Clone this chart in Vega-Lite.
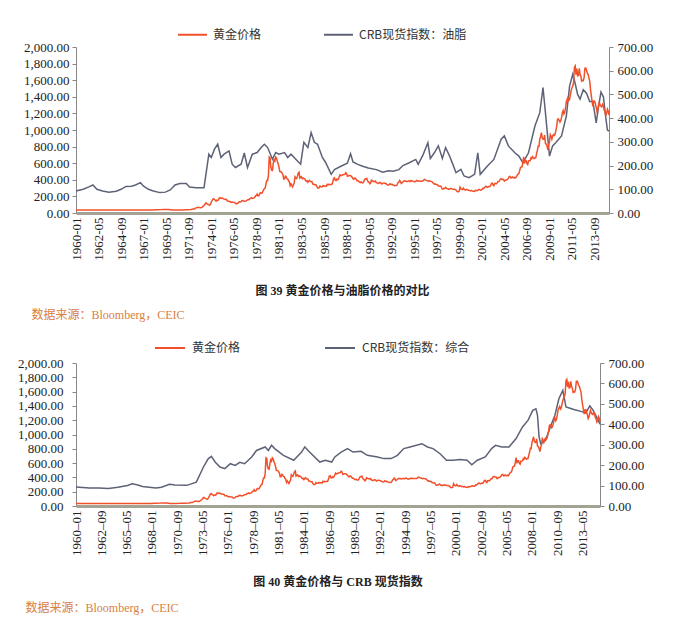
{
"$schema": "https://vega.github.io/schema/vega-lite/v6.json",
"background": "white",
"padding": {"left": 17, "top": 19, "right": 5, "bottom": 3},
"config": {
  "view": {"stroke": null},
  "font": "Liberation Serif",
  "axis": {"labelOverlap": false},
  "title": {"font": "Liberation Serif, Noto Sans CJK SC", "color": "#222"}
},
"datasets": {
"gold": [
{"d":"1960-01","v":35},{"d":"1964-01","v":35},{"d":"1967-12","v":35},{"d":"1968-04","v":38},{"d":"1968-12","v":41},{"d":"1969-03","v":43},{"d":"1969-08","v":41},{"d":"1969-12","v":35},{"d":"1970-06","v":35.5},{"d":"1970-12","v":37},{"d":"1971-06","v":40},{"d":"1971-12","v":43},
{"d":"1972-01","v":46},{"d":"1972-02","v":48},{"d":"1972-03","v":48},{"d":"1972-04","v":49},{"d":"1972-05","v":54},{"d":"1972-06","v":62},{"d":"1972-07","v":65},{"d":"1972-08","v":67},{"d":"1972-09","v":65},{"d":"1972-10","v":65},{"d":"1972-11","v":63},{"d":"1972-12","v":64},
{"d":"1973-01","v":65},{"d":"1973-02","v":74},{"d":"1973-03","v":84},{"d":"1973-04","v":90},{"d":"1973-05","v":102},{"d":"1973-06","v":120},{"d":"1973-07","v":120},{"d":"1973-08","v":106},{"d":"1973-09","v":103},{"d":"1973-10","v":100},{"d":"1973-11","v":94},{"d":"1973-12","v":106},
{"d":"1974-01","v":129},{"d":"1974-02","v":150},{"d":"1974-03","v":168},{"d":"1974-04","v":172},{"d":"1974-05","v":163},{"d":"1974-06","v":154},{"d":"1974-07","v":143},{"d":"1974-08","v":154},{"d":"1974-09","v":151},{"d":"1974-10","v":158},{"d":"1974-11","v":181},{"d":"1974-12","v":183},
{"d":"1975-01","v":176},{"d":"1975-02","v":180},{"d":"1975-03","v":178},{"d":"1975-04","v":170},{"d":"1975-05","v":167},{"d":"1975-06","v":164},{"d":"1975-07","v":165},{"d":"1975-08","v":163},{"d":"1975-09","v":144},{"d":"1975-10","v":143},{"d":"1975-11","v":142},{"d":"1975-12","v":140},
{"d":"1976-01","v":131},{"d":"1976-02","v":131},{"d":"1976-03","v":132},{"d":"1976-04","v":128},{"d":"1976-05","v":126},{"d":"1976-06","v":126},{"d":"1976-07","v":118},{"d":"1976-08","v":110},{"d":"1976-09","v":114},{"d":"1976-10","v":117},{"d":"1976-11","v":130},{"d":"1976-12","v":134},
{"d":"1977-01","v":132},{"d":"1977-02","v":136},{"d":"1977-03","v":148},{"d":"1977-04","v":149},{"d":"1977-05","v":146},{"d":"1977-06","v":141},{"d":"1977-07","v":143},{"d":"1977-08","v":145},{"d":"1977-09","v":150},{"d":"1977-10","v":158},{"d":"1977-11","v":162},{"d":"1977-12","v":161},
{"d":"1978-01","v":173},{"d":"1978-02","v":178},{"d":"1978-03","v":184},{"d":"1978-04","v":175},{"d":"1978-05","v":177},{"d":"1978-06","v":183},{"d":"1978-07","v":188},{"d":"1978-08","v":206},{"d":"1978-09","v":212},{"d":"1978-10","v":227},{"d":"1978-11","v":206},{"d":"1978-12","v":208},
{"d":"1979-01","v":227},{"d":"1979-02","v":245},{"d":"1979-03","v":242},{"d":"1979-04","v":239},{"d":"1979-05","v":257},{"d":"1979-06","v":279},{"d":"1979-07","v":295},{"d":"1979-08","v":301},{"d":"1979-09","v":355},{"d":"1979-10","v":392},{"d":"1979-11","v":392},{"d":"1979-12","v":456},
{"d":"1980-01","v":675},{"d":"1980-02","v":665},{"d":"1980-03","v":554},{"d":"1980-04","v":517},{"d":"1980-05","v":513},{"d":"1980-06","v":600},{"d":"1980-07","v":644},{"d":"1980-08","v":627},{"d":"1980-09","v":674},{"d":"1980-10","v":661},{"d":"1980-11","v":623},{"d":"1980-12","v":595},
{"d":"1981-01","v":557},{"d":"1981-02","v":500},{"d":"1981-03","v":498},{"d":"1981-04","v":495},{"d":"1981-05","v":480},{"d":"1981-06","v":461},{"d":"1981-07","v":409},{"d":"1981-08","v":410},{"d":"1981-09","v":443},{"d":"1981-10","v":437},{"d":"1981-11","v":413},{"d":"1981-12","v":410},
{"d":"1982-01","v":384},{"d":"1982-02","v":374},{"d":"1982-03","v":330},{"d":"1982-04","v":350},{"d":"1982-05","v":333},{"d":"1982-06","v":314},{"d":"1982-07","v":340},{"d":"1982-08","v":360},{"d":"1982-09","v":436},{"d":"1982-10","v":422},{"d":"1982-11","v":415},{"d":"1982-12","v":444},
{"d":"1983-01","v":481},{"d":"1983-02","v":491},{"d":"1983-03","v":420},{"d":"1983-04","v":432},{"d":"1983-05","v":438},{"d":"1983-06","v":413},{"d":"1983-07","v":422},{"d":"1983-08","v":416},{"d":"1983-09","v":412},{"d":"1983-10","v":394},{"d":"1983-11","v":382},{"d":"1983-12","v":388},
{"d":"1984-01","v":370},{"d":"1984-02","v":386},{"d":"1984-03","v":394},{"d":"1984-04","v":381},{"d":"1984-05","v":377},{"d":"1984-06","v":378},{"d":"1984-07","v":348},{"d":"1984-08","v":348},{"d":"1984-09","v":341},{"d":"1984-10","v":340},{"d":"1984-11","v":341},{"d":"1984-12","v":320},
{"d":"1985-01","v":303},{"d":"1985-02","v":299},{"d":"1985-03","v":304},{"d":"1985-04","v":325},{"d":"1985-05","v":316},{"d":"1985-06","v":317},{"d":"1985-07","v":317},{"d":"1985-08","v":330},{"d":"1985-09","v":323},{"d":"1985-10","v":326},{"d":"1985-11","v":325},{"d":"1985-12","v":321},
{"d":"1986-01","v":345},{"d":"1986-02","v":339},{"d":"1986-03","v":346},{"d":"1986-04","v":340},{"d":"1986-05","v":342},{"d":"1986-06","v":343},{"d":"1986-07","v":348},{"d":"1986-08","v":376},{"d":"1986-09","v":418},{"d":"1986-10","v":423},{"d":"1986-11","v":395},{"d":"1986-12","v":391},
{"d":"1987-01","v":408},{"d":"1987-02","v":401},{"d":"1987-03","v":408},{"d":"1987-04","v":438},{"d":"1987-05","v":460},{"d":"1987-06","v":449},{"d":"1987-07","v":451},{"d":"1987-08","v":461},{"d":"1987-09","v":460},{"d":"1987-10","v":465},{"d":"1987-11","v":467},{"d":"1987-12","v":486},
{"d":"1988-01","v":477},{"d":"1988-02","v":442},{"d":"1988-03","v":444},{"d":"1988-04","v":452},{"d":"1988-05","v":451},{"d":"1988-06","v":452},{"d":"1988-07","v":437},{"d":"1988-08","v":432},{"d":"1988-09","v":413},{"d":"1988-10","v":406},{"d":"1988-11","v":420},{"d":"1988-12","v":419},
{"d":"1989-01","v":404},{"d":"1989-02","v":388},{"d":"1989-03","v":390},{"d":"1989-04","v":384},{"d":"1989-05","v":371},{"d":"1989-06","v":367},{"d":"1989-07","v":375},{"d":"1989-08","v":365},{"d":"1989-09","v":362},{"d":"1989-10","v":367},{"d":"1989-11","v":394},{"d":"1989-12","v":409},
{"d":"1990-01","v":410},{"d":"1990-02","v":417},{"d":"1990-03","v":393},{"d":"1990-04","v":374},{"d":"1990-05","v":369},{"d":"1990-06","v":352},{"d":"1990-07","v":362},{"d":"1990-08","v":395},{"d":"1990-09","v":389},{"d":"1990-10","v":381},{"d":"1990-11","v":381},{"d":"1990-12","v":378},
{"d":"1991-01","v":384},{"d":"1991-02","v":364},{"d":"1991-03","v":363},{"d":"1991-04","v":358},{"d":"1991-05","v":357},{"d":"1991-06","v":367},{"d":"1991-07","v":368},{"d":"1991-08","v":356},{"d":"1991-09","v":349},{"d":"1991-10","v":358},{"d":"1991-11","v":360},{"d":"1991-12","v":361},
{"d":"1992-01","v":354},{"d":"1992-02","v":354},{"d":"1992-03","v":345},{"d":"1992-04","v":338},{"d":"1992-05","v":337},{"d":"1992-06","v":341},{"d":"1992-07","v":353},{"d":"1992-08","v":343},{"d":"1992-09","v":345},{"d":"1992-10","v":344},{"d":"1992-11","v":335},{"d":"1992-12","v":334},
{"d":"1993-01","v":329},{"d":"1993-02","v":330},{"d":"1993-03","v":330},{"d":"1993-04","v":342},{"d":"1993-05","v":367},{"d":"1993-06","v":372},{"d":"1993-07","v":392},{"d":"1993-08","v":378},{"d":"1993-09","v":355},{"d":"1993-10","v":364},{"d":"1993-11","v":374},{"d":"1993-12","v":383},
{"d":"1994-01","v":387},{"d":"1994-02","v":382},{"d":"1994-03","v":384},{"d":"1994-04","v":378},{"d":"1994-05","v":381},{"d":"1994-06","v":386},{"d":"1994-07","v":385},{"d":"1994-08","v":380},{"d":"1994-09","v":391},{"d":"1994-10","v":389},{"d":"1994-11","v":384},{"d":"1994-12","v":379},
{"d":"1995-01","v":379},{"d":"1995-02","v":377},{"d":"1995-03","v":381},{"d":"1995-04","v":391},{"d":"1995-05","v":385},{"d":"1995-06","v":387},{"d":"1995-07","v":386},{"d":"1995-08","v":383},{"d":"1995-09","v":383},{"d":"1995-10","v":383},{"d":"1995-11","v":386},{"d":"1995-12","v":387},
{"d":"1996-01","v":400},{"d":"1996-02","v":405},{"d":"1996-03","v":396},{"d":"1996-04","v":393},{"d":"1996-05","v":392},{"d":"1996-06","v":385},{"d":"1996-07","v":383},{"d":"1996-08","v":387},{"d":"1996-09","v":383},{"d":"1996-10","v":381},{"d":"1996-11","v":378},{"d":"1996-12","v":369},
{"d":"1997-01","v":355},{"d":"1997-02","v":347},{"d":"1997-03","v":352},{"d":"1997-04","v":344},{"d":"1997-05","v":344},{"d":"1997-06","v":341},{"d":"1997-07","v":324},{"d":"1997-08","v":324},{"d":"1997-09","v":323},{"d":"1997-10","v":325},{"d":"1997-11","v":306},{"d":"1997-12","v":289},
{"d":"1998-01","v":289},{"d":"1998-02","v":297},{"d":"1998-03","v":296},{"d":"1998-04","v":308},{"d":"1998-05","v":299},{"d":"1998-06","v":292},{"d":"1998-07","v":293},{"d":"1998-08","v":284},{"d":"1998-09","v":289},{"d":"1998-10","v":296},{"d":"1998-11","v":294},{"d":"1998-12","v":291},
{"d":"1999-01","v":287},{"d":"1999-02","v":287},{"d":"1999-03","v":286},{"d":"1999-04","v":282},{"d":"1999-05","v":277},{"d":"1999-06","v":262},{"d":"1999-07","v":256},{"d":"1999-08","v":257},{"d":"1999-09","v":265},{"d":"1999-10","v":311},{"d":"1999-11","v":293},{"d":"1999-12","v":283},
{"d":"2000-01","v":284},{"d":"2000-02","v":300},{"d":"2000-03","v":286},{"d":"2000-04","v":280},{"d":"2000-05","v":275},{"d":"2000-06","v":285},{"d":"2000-07","v":282},{"d":"2000-08","v":274},{"d":"2000-09","v":273},{"d":"2000-10","v":270},{"d":"2000-11","v":266},{"d":"2000-12","v":272},
{"d":"2001-01","v":266},{"d":"2001-02","v":262},{"d":"2001-03","v":263},{"d":"2001-04","v":261},{"d":"2001-05","v":272},{"d":"2001-06","v":270},{"d":"2001-07","v":268},{"d":"2001-08","v":273},{"d":"2001-09","v":283},{"d":"2001-10","v":283},{"d":"2001-11","v":276},{"d":"2001-12","v":275},
{"d":"2002-01","v":282},{"d":"2002-02","v":296},{"d":"2002-03","v":294},{"d":"2002-04","v":302},{"d":"2002-05","v":314},{"d":"2002-06","v":322},{"d":"2002-07","v":314},{"d":"2002-08","v":310},{"d":"2002-09","v":319},{"d":"2002-10","v":317},{"d":"2002-11","v":319},{"d":"2002-12","v":333},
{"d":"2003-01","v":357},{"d":"2003-02","v":359},{"d":"2003-03","v":340},{"d":"2003-04","v":328},{"d":"2003-05","v":355},{"d":"2003-06","v":356},{"d":"2003-07","v":351},{"d":"2003-08","v":360},{"d":"2003-09","v":379},{"d":"2003-10","v":379},{"d":"2003-11","v":390},{"d":"2003-12","v":407},
{"d":"2004-01","v":414},{"d":"2004-02","v":405},{"d":"2004-03","v":406},{"d":"2004-04","v":404},{"d":"2004-05","v":384},{"d":"2004-06","v":392},{"d":"2004-07","v":398},{"d":"2004-08","v":400},{"d":"2004-09","v":406},{"d":"2004-10","v":420},{"d":"2004-11","v":439},{"d":"2004-12","v":442},
{"d":"2005-01","v":424},{"d":"2005-02","v":423},{"d":"2005-03","v":434},{"d":"2005-04","v":429},{"d":"2005-05","v":422},{"d":"2005-06","v":430},{"d":"2005-07","v":424},{"d":"2005-08","v":437},{"d":"2005-09","v":456},{"d":"2005-10","v":470},{"d":"2005-11","v":476},{"d":"2005-12","v":510},
{"d":"2006-01","v":549},{"d":"2006-02","v":555},{"d":"2006-03","v":557},{"d":"2006-04","v":610},{"d":"2006-05","v":676},{"d":"2006-06","v":596},{"d":"2006-07","v":633},{"d":"2006-08","v":632},{"d":"2006-09","v":598},{"d":"2006-10","v":585},{"d":"2006-11","v":627},{"d":"2006-12","v":629},
{"d":"2007-01","v":631},{"d":"2007-02","v":664},{"d":"2007-03","v":655},{"d":"2007-04","v":679},{"d":"2007-05","v":667},{"d":"2007-06","v":655},{"d":"2007-07","v":665},{"d":"2007-08","v":665},{"d":"2007-09","v":712},{"d":"2007-10","v":754},{"d":"2007-11","v":806},{"d":"2007-12","v":803},
{"d":"2008-01","v":889},{"d":"2008-02","v":922},{"d":"2008-03","v":968},{"d":"2008-04","v":909},{"d":"2008-05","v":888},{"d":"2008-06","v":889},{"d":"2008-07","v":939},{"d":"2008-08","v":839},{"d":"2008-09","v":829},{"d":"2008-10","v":806},{"d":"2008-11","v":760},{"d":"2008-12","v":816},
{"d":"2009-01","v":858},{"d":"2009-02","v":943},{"d":"2009-03","v":924},{"d":"2009-04","v":890},{"d":"2009-05","v":928},{"d":"2009-06","v":946},{"d":"2009-07","v":934},{"d":"2009-08","v":949},{"d":"2009-09","v":996},{"d":"2009-10","v":1043},{"d":"2009-11","v":1127},{"d":"2009-12","v":1135},
{"d":"2010-01","v":1117},{"d":"2010-02","v":1095},{"d":"2010-03","v":1113},{"d":"2010-04","v":1148},{"d":"2010-05","v":1205},{"d":"2010-06","v":1233},{"d":"2010-07","v":1193},{"d":"2010-08","v":1215},{"d":"2010-09","v":1271},{"d":"2010-10","v":1343},{"d":"2010-11","v":1370},{"d":"2010-12","v":1391},
{"d":"2011-01","v":1356},{"d":"2011-02","v":1372},{"d":"2011-03","v":1424},{"d":"2011-04","v":1474},{"d":"2011-05","v":1510},{"d":"2011-06","v":1529},{"d":"2011-07","v":1572},{"d":"2011-08","v":1756},{"d":"2011-09","v":1772},{"d":"2011-10","v":1666},{"d":"2011-11","v":1739},{"d":"2011-12","v":1652},
{"d":"2012-01","v":1656},{"d":"2012-02","v":1743},{"d":"2012-03","v":1675},{"d":"2012-04","v":1649},{"d":"2012-05","v":1589},{"d":"2012-06","v":1598},{"d":"2012-07","v":1594},{"d":"2012-08","v":1630},{"d":"2012-09","v":1744},{"d":"2012-10","v":1747},{"d":"2012-11","v":1722},{"d":"2012-12","v":1685},
{"d":"2013-01","v":1671},{"d":"2013-02","v":1627},{"d":"2013-03","v":1593},{"d":"2013-04","v":1487},{"d":"2013-05","v":1414},{"d":"2013-06","v":1343},{"d":"2013-07","v":1286},{"d":"2013-08","v":1347},{"d":"2013-09","v":1348},{"d":"2013-10","v":1316},{"d":"2013-11","v":1275},{"d":"2013-12","v":1222},
{"d":"2014-01","v":1244},{"d":"2014-02","v":1300},{"d":"2014-03","v":1336},{"d":"2014-04","v":1299},{"d":"2014-05","v":1287},{"d":"2014-06","v":1279},{"d":"2014-07","v":1311},{"d":"2014-08","v":1296},{"d":"2014-09","v":1239},{"d":"2014-10","v":1222},{"d":"2014-11","v":1176},{"d":"2014-12","v":1200},
{"d":"2015-01","v":1251},{"d":"2015-02","v":1227},{"d":"2015-03","v":1178}
],
"oils": [
{"d":"1960-01","v":93},{"d":"1960-10","v":100},{"d":"1961-05","v":110},{"d":"1961-10","v":118},{"d":"1962-03","v":100},{"d":"1962-10","v":93},{"d":"1963-06","v":88},{"d":"1964-03","v":92},{"d":"1964-09","v":100},{"d":"1965-03","v":112},{"d":"1965-10","v":113},{"d":"1966-03","v":118},{"d":"1966-09","v":128},{"d":"1967-01","v":113},{"d":"1967-07","v":100},{"d":"1968-01","v":93},{"d":"1968-09","v":86},{"d":"1969-04","v":88},{"d":"1969-10","v":97},{"d":"1970-04","v":118},{"d":"1970-10","v":124},{"d":"1971-06","v":124},{"d":"1971-10","v":110},{"d":"1972-06","v":107},{"d":"1973-04","v":107},{"d":"1973-10","v":248},{"d":"1974-01","v":234},{"d":"1974-05","v":269},{"d":"1974-09","v":290},{"d":"1975-01","v":234},{"d":"1975-05","v":248},{"d":"1975-11","v":262},{"d":"1976-03","v":206},{"d":"1976-07","v":192},{"d":"1977-02","v":206},{"d":"1977-06","v":253},{"d":"1977-10","v":192},{"d":"1978-04","v":248},{"d":"1978-10","v":255},{"d":"1979-03","v":276},{"d":"1979-07","v":290},{"d":"1979-11","v":276},{"d":"1980-05","v":227},{"d":"1980-09","v":255},{"d":"1981-01","v":248},{"d":"1981-08","v":255},{"d":"1981-12","v":234},{"d":"1982-04","v":248},{"d":"1982-10","v":227},{"d":"1983-04","v":206},{"d":"1983-08","v":298},{"d":"1984-01","v":276},{"d":"1984-05","v":339},{"d":"1984-09","v":298},{"d":"1985-01","v":290},{"d":"1985-07","v":234},{"d":"1985-11","v":213},{"d":"1986-06","v":163},{"d":"1986-10","v":183},{"d":"1987-06","v":197},{"d":"1988-02","v":210},{"d":"1988-06","v":250},{"d":"1988-09","v":215},{"d":"1989-03","v":205},{"d":"1989-09","v":197},{"d":"1990-04","v":190},{"d":"1991-02","v":183},{"d":"1991-10","v":172},{"d":"1992-05","v":178},{"d":"1992-11","v":176},{"d":"1993-06","v":183},{"d":"1993-11","v":200},{"d":"1994-07","v":212},{"d":"1995-03","v":226},{"d":"1995-06","v":205},{"d":"1995-12","v":245},{"d":"1996-06","v":296},{"d":"1996-09","v":230},{"d":"1997-02","v":254},{"d":"1997-07","v":283},{"d":"1997-12","v":230},{"d":"1998-04","v":276},{"d":"1998-09","v":240},{"d":"1999-01","v":205},{"d":"1999-05","v":170},{"d":"1999-11","v":184},{"d":"2000-03","v":156},{"d":"2000-09","v":149},{"d":"2001-04","v":163},{"d":"2001-08","v":254},{"d":"2001-11","v":163},{"d":"2002-08","v":198},{"d":"2003-04","v":226},{"d":"2004-01","v":311},{"d":"2004-05","v":325},{"d":"2004-10","v":283},{"d":"2005-06","v":254},{"d":"2005-11","v":240},{"d":"2006-04","v":212},{"d":"2006-11","v":254},{"d":"2007-07","v":367},{"d":"2008-01","v":423},{"d":"2008-05","v":529},{"d":"2008-08","v":423},{"d":"2009-01","v":240},{"d":"2009-05","v":283},{"d":"2009-09","v":297},{"d":"2010-04","v":325},{"d":"2010-10","v":409},{"d":"2011-02","v":536},{"d":"2011-06","v":585},{"d":"2011-09","v":545},{"d":"2011-12","v":500},{"d":"2012-03","v":480},{"d":"2012-07","v":520},{"d":"2012-11","v":505},{"d":"2013-03","v":470},{"d":"2013-07","v":470},{"d":"2013-11","v":380},{"d":"2014-02","v":450},{"d":"2014-05","v":510},{"d":"2014-08","v":490},{"d":"2014-11","v":400},{"d":"2015-01","v":350},{"d":"2015-03","v":345}
],
"crb": [
{"d":"1960-01","v":93},{"d":"1961-06","v":88},{"d":"1962-06","v":88},{"d":"1963-06","v":86},{"d":"1964-06","v":92},{"d":"1965-06","v":100},{"d":"1965-12","v":109},{"d":"1966-06","v":104},{"d":"1967-01","v":96},{"d":"1968-06","v":88},{"d":"1969-01","v":92},{"d":"1969-11","v":106},{"d":"1970-06","v":103},{"d":"1971-09","v":101},{"d":"1972-09","v":117},{"d":"1973-06","v":191},{"d":"1973-12","v":231},{"d":"1974-04","v":243},{"d":"1974-09","v":214},{"d":"1975-03","v":191},{"d":"1975-09","v":183},{"d":"1976-04","v":207},{"d":"1976-10","v":199},{"d":"1977-04","v":214},{"d":"1977-10","v":207},{"d":"1978-07","v":240},{"d":"1979-01","v":272},{"d":"1979-12","v":289},{"d":"1980-04","v":272},{"d":"1980-08","v":297},{"d":"1980-12","v":281},{"d":"1981-11","v":248},{"d":"1982-12","v":224},{"d":"1983-10","v":264},{"d":"1984-02","v":289},{"d":"1984-08","v":264},{"d":"1985-09","v":215},{"d":"1986-04","v":224},{"d":"1986-12","v":215},{"d":"1987-04","v":240},{"d":"1987-12","v":264},{"d":"1988-08","v":281},{"d":"1989-03","v":264},{"d":"1990-01","v":268},{"d":"1990-09","v":248},{"d":"1991-10","v":240},{"d":"1992-06","v":232},{"d":"1993-03","v":232},{"d":"1993-11","v":248},{"d":"1994-07","v":281},{"d":"1995-03","v":289},{"d":"1996-06","v":305},{"d":"1997-01","v":289},{"d":"1997-08","v":281},{"d":"1998-05","v":256},{"d":"1999-01","v":224},{"d":"1999-10","v":224},{"d":"2000-06","v":228},{"d":"2001-03","v":224},{"d":"2001-09","v":202},{"d":"2002-04","v":224},{"d":"2003-02","v":240},{"d":"2003-10","v":281},{"d":"2004-03","v":297},{"d":"2004-11","v":289},{"d":"2005-08","v":289},{"d":"2006-05","v":330},{"d":"2007-01","v":387},{"d":"2007-08","v":419},{"d":"2008-02","v":468},{"d":"2008-06","v":476},{"d":"2008-08","v":444},{"d":"2008-10","v":338},{"d":"2008-12","v":305},{"d":"2009-06","v":321},{"d":"2010-01","v":395},{"d":"2010-06","v":444},{"d":"2010-11","v":525},{"d":"2011-04","v":566},{"d":"2011-08","v":485},{"d":"2012-02","v":477},{"d":"2012-06","v":472},{"d":"2013-04","v":462},{"d":"2013-09","v":455},{"d":"2014-02","v":490},{"d":"2014-06","v":470},{"d":"2014-10","v":440},{"d":"2015-03","v":400}
]
},
"resolve": {"scale": {"color": "independent"}, "legend": {"color": "independent"}},
"spacing": 10,
"vconcat": [
{
 "title": {"text": "数据来源：Bloomberg，CEIC", "orient": "bottom", "anchor": "start", "frame": "bounds", "color": "#d98040", "fontSize": 12, "fontWeight": "normal", "font": "Liberation Serif, Noto Sans CJK SC", "offset": 13, "dx": 8},
 "vconcat": [
 {
  "width": 533, "height": 166,
  "title": {"text": "图 39    黄金价格与油脂价格的对比", "orient": "bottom", "anchor": "middle", "fontSize": 12, "fontWeight": "bold", "offset": 26},
  "resolve": {"scale": {"y": "independent"}},
  "encoding": {
   "x": {"field": "d", "type": "temporal",
     "scale": {"type": "utc", "domain": [{"year": 1960, "month": 1, "utc": true}, {"year": 2015, "month": 3, "utc": true}], "nice": false},
     "axis": {"title": null, "format": "%Y-%m", "labelAngle": 270, "labelFontSize": 13, "labelColor": "#222", "labelPadding": 4, "ticks": false, "grid": false, "domainColor": "#a3a394", "domainWidth": 3, "labelOverlap": false, "labelFlush": false, "labelBound": false,
      "values": [{"year":1960,"month":1,"utc":true},{"year":1962,"month":5,"utc":true},{"year":1964,"month":9,"utc":true},{"year":1967,"month":1,"utc":true},{"year":1969,"month":5,"utc":true},{"year":1971,"month":9,"utc":true},{"year":1974,"month":1,"utc":true},{"year":1976,"month":5,"utc":true},{"year":1978,"month":9,"utc":true},{"year":1981,"month":1,"utc":true},{"year":1983,"month":5,"utc":true},{"year":1985,"month":9,"utc":true},{"year":1988,"month":1,"utc":true},{"year":1990,"month":5,"utc":true},{"year":1992,"month":9,"utc":true},{"year":1995,"month":1,"utc":true},{"year":1997,"month":5,"utc":true},{"year":1999,"month":9,"utc":true},{"year":2002,"month":1,"utc":true},{"year":2004,"month":5,"utc":true},{"year":2006,"month":9,"utc":true},{"year":2009,"month":1,"utc":true},{"year":2011,"month":5,"utc":true},{"year":2013,"month":9,"utc":true}]}}
  },
  "layer": [
   {
    "data": {"name": "oils"},
    "mark": {"type": "line", "strokeWidth": 1.5},
    "encoding": {
     "y": {"field": "v", "type": "quantitative", "scale": {"domain": [0, 700], "nice": false},
       "axis": {"title": null, "orient": "right", "values": [0,100,200,300,400,500,600,700], "format": ".2f", "labelFontSize": 13, "labelColor": "#222", "labelPadding": 4, "tickSize": 4, "tickColor": "#888", "domainColor": "#888", "grid": false}},
     "color": {"datum": "CRB现货指数：油脂", "type": "nominal",
       "scale": {"domain": ["黄金价格", "CRB现货指数：油脂"], "range": ["#f2502a", "#5d6276"]},
       "legend": {"title": null, "orient": "none", "legendX": 101, "legendY": -28, "direction": "horizontal", "symbolType": "stroke", "symbolSize": 840, "symbolStrokeWidth": 2, "labelFont": "Noto Sans CJK SC", "labelFontSize": 12, "labelColor": "#333", "columnPadding": 58, "labelOffset": 5}}
    }
   },
   {
    "data": {"name": "gold"},
    "mark": {"type": "line", "strokeWidth": 1.5},
    "encoding": {
     "y": {"field": "v", "type": "quantitative", "scale": {"domain": [0, 2000], "nice": false},
       "axis": {"title": null, "orient": "left", "values": [0,200,400,600,800,1000,1200,1400,1600,1800,2000], "format": ",.2f", "labelFontSize": 13, "labelColor": "#222", "labelPadding": 3, "tickSize": 4, "tickColor": "#888", "domainColor": "#888", "grid": false}},
     "color": {"datum": "黄金价格", "type": "nominal"}
    }
   }
  ]
 }
 ]
},
{
 "title": {"text": "数据来源：Bloomberg，CEIC", "orient": "bottom", "anchor": "start", "frame": "bounds", "color": "#d98040", "fontSize": 12, "fontWeight": "normal", "font": "Liberation Serif, Noto Sans CJK SC", "offset": 15, "dx": 8},
 "vconcat": [
 {
  "width": 524, "height": 143,
  "title": {"text": "图 40    黄金价格与 CRB 现货指数", "orient": "bottom", "anchor": "middle", "fontSize": 12, "fontWeight": "bold", "offset": 21},
  "resolve": {"scale": {"y": "independent"}},
  "encoding": {
   "x": {"field": "d", "type": "temporal",
     "scale": {"type": "utc", "domain": [{"year": 1960, "month": 1, "utc": true}, {"year": 2015, "month": 3, "utc": true}], "nice": false},
     "axis": {"title": null, "format": "%Y–%m", "labelAngle": 270, "labelFontSize": 13, "labelColor": "#222", "labelPadding": 4, "ticks": false, "grid": false, "domainColor": "#a3a394", "domainWidth": 3, "labelOverlap": false, "labelFlush": false, "labelBound": false,
      "values": [{"year":1960,"month":1,"utc":true},{"year":1962,"month":9,"utc":true},{"year":1965,"month":5,"utc":true},{"year":1968,"month":1,"utc":true},{"year":1970,"month":9,"utc":true},{"year":1973,"month":5,"utc":true},{"year":1976,"month":1,"utc":true},{"year":1978,"month":9,"utc":true},{"year":1981,"month":5,"utc":true},{"year":1984,"month":1,"utc":true},{"year":1986,"month":9,"utc":true},{"year":1989,"month":5,"utc":true},{"year":1992,"month":1,"utc":true},{"year":1994,"month":9,"utc":true},{"year":1997,"month":5,"utc":true},{"year":2000,"month":1,"utc":true},{"year":2002,"month":9,"utc":true},{"year":2005,"month":5,"utc":true},{"year":2008,"month":1,"utc":true},{"year":2010,"month":9,"utc":true},{"year":2013,"month":5,"utc":true}]}}
  },
  "layer": [
   {
    "data": {"name": "crb"},
    "mark": {"type": "line", "strokeWidth": 1.5},
    "encoding": {
     "y": {"field": "v", "type": "quantitative", "scale": {"domain": [0, 700], "nice": false},
       "axis": {"title": null, "orient": "right", "values": [0,100,200,300,400,500,600,700], "format": ".2f", "labelFontSize": 13, "labelColor": "#222", "labelPadding": 4, "tickSize": 4, "tickColor": "#888", "domainColor": "#888", "grid": false}},
     "color": {"datum": "CRB现货指数：综合", "type": "nominal",
       "scale": {"domain": ["黄金价格", "CRB现货指数：综合"], "range": ["#f2502a", "#5d6276"]},
       "legend": {"title": null, "orient": "none", "legendX": 78, "legendY": -31, "direction": "horizontal", "symbolType": "stroke", "symbolSize": 900, "symbolStrokeWidth": 2, "labelFont": "Noto Sans CJK SC", "labelFontSize": 12, "labelColor": "#333", "columnPadding": 80, "labelOffset": 6}}
    }
   },
   {
    "data": {"name": "gold"},
    "mark": {"type": "line", "strokeWidth": 1.5},
    "encoding": {
     "y": {"field": "v", "type": "quantitative", "scale": {"domain": [0, 2000], "nice": false},
       "axis": {"title": null, "orient": "left", "values": [0,200,400,600,800,1000,1200,1400,1600,1800,2000], "format": ",.2f", "labelFontSize": 13, "labelColor": "#222", "labelPadding": 9, "tickSize": 4, "tickColor": "#888", "domainColor": "#888", "grid": false}},
     "color": {"datum": "黄金价格", "type": "nominal"}
    }
   }
  ]
 }
 ]
}
]
}
